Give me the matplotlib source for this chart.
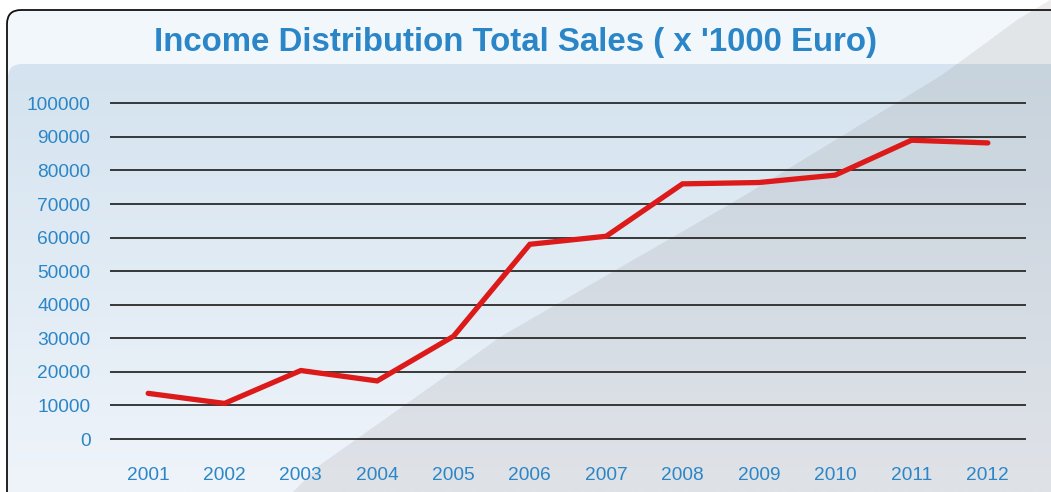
import matplotlib
matplotlib.use("Agg")
import matplotlib.pyplot as plt
import numpy as np
from matplotlib.patches import FancyBboxPatch, Polygon

plt.rcParams['font.family'] = ['Liberation Sans', 'DejaVu Sans']

# data
years = ['2001', '2002', '2003', '2004', '2005', '2006',
         '2007', '2008', '2009', '2010', '2011', '2012']
sales = [13600, 10600, 20400, 17300, 30600, 58000,
         60400, 76000, 76400, 78600, 89000, 88200]
y_ticks = [0, 10000, 20000, 30000, 40000, 50000,
           60000, 70000, 80000, 90000, 100000]

title = "Income Distribution Total Sales ( x '1000 Euro)"
blue = '#2b86c7'

W, H = 1051, 492
fig = plt.figure(figsize=(W / 100, H / 100), dpi=100)
fig.patch.set_facecolor('white')

# background axes in pixel coords
bg = fig.add_axes([0, 0, 1, 1])
bg.set_xlim(0, W)
bg.set_ylim(H, 0)
bg.axis('off')

# title band
box = FancyBboxPatch((7, 10), W + 40, H + 40,
                     boxstyle="round,pad=0,rounding_size=14",
                     facecolor='#f2f7fb', edgecolor='#111111', lw=1.3)
bg.add_patch(box)

# plot panel with vertical gradient
panel = FancyBboxPatch((8, 64), W + 40, H + 40,
                       boxstyle="round,pad=0,rounding_size=14",
                       facecolor='none', edgecolor='none')
bg.add_patch(panel)
grad = np.linspace(0, 1, 256).reshape(-1, 1)
top_c = np.array([0xd4, 0xe3, 0xef]) / 255
bot_c = np.array([0xef, 0xf4, 0xfa]) / 255
img = top_c[None, None, :] * (1 - grad[:, :, None]) + bot_c[None, None, :] * grad[:, :, None]
im = bg.imshow(img, extent=(8, W, H, 64), aspect='auto', zorder=1)
im.set_clip_path(panel)

# diagonal gray shade
shade = Polygon([(293, 492), (320, 465), (450, 373), (500, 337), (737, 200),
                 (942, 75), (983, 45), (1017, 20), (1050, 0), (W, 0), (W, H)],
                closed=True, facecolor='#5a4a48', alpha=0.1, edgecolor='none', zorder=2)
bg.add_patch(shade)

bg.text(515, 42, title, color=blue, fontsize=23.8, fontweight='bold',
        ha='center', va='center', zorder=3)

# data axes
px_per = 335.7 / 100000
ytop = 103.3 - 3000 * px_per
ybot = 439 + 3000 * px_per
ax = fig.add_axes([110 / W, 1 - ybot / H, (1026 - 110) / W, (ybot - ytop) / H])
ax.patch.set_alpha(0)
ax.set_xlim(-0.5, 11.5)
ax.set_ylim(-3000, 103000)
for s in ax.spines.values():
    s.set_visible(False)
ax.set_yticks(y_ticks)
ax.set_yticklabels([str(v) for v in y_ticks])
ax.set_xticks(range(len(years)))
ax.set_xticklabels(years)
ax.tick_params(axis='both', length=0, colors=blue, labelsize=13.8)
ax.tick_params(axis='y', pad=14)
ax.tick_params(axis='x', pad=13)
ax.grid(axis='y', color='#2a2a2a', lw=1.3)
ax.grid(axis='x', visible=False)
ax.set_axisbelow(True)
ax.plot(range(len(years)), sales, color='#dc1a1a', lw=3.8,
        solid_joinstyle='miter', solid_capstyle='round', zorder=5)

fig.savefig('out.png', dpi=100, facecolor='white')
